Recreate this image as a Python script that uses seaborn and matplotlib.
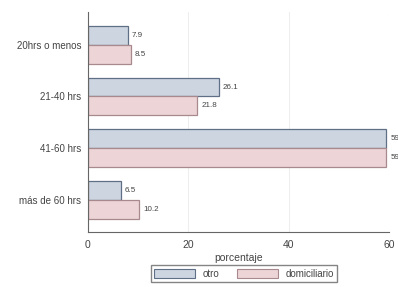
import matplotlib
matplotlib.use("Agg")
import matplotlib.pyplot as plt
import seaborn as sns
import pandas as pd
from matplotlib.patches import Patch

categories = ["20hrs o menos", "21-40 hrs", "41-60 hrs", "más de 60 hrs"]
otro = [7.9, 26.1, 59.5, 6.5]
domiciliario = [8.5, 21.8, 59.5, 10.2]
series_names = ["otro", "domiciliario"]

df = pd.DataFrame({
    "cat": categories * 2,
    "val": otro + domiciliario,
    "serie": [series_names[0]] * 4 + [series_names[1]] * 4,
})

sns.set_theme(style="white")
plt.rcParams['font.family'] = ['Liberation Sans', 'DejaVu Sans']

fills = {"otro": "#cdd5e1", "domiciliario": "#ecd4d7"}
edges = {"otro": "#5f6f85", "domiciliario": "#a8898d"}

fig = plt.figure(figsize=(3.98, 2.87), dpi=100)
ax = fig.add_axes([0.221, 0.192, 0.756, 0.766])
sns.barplot(data=df, y="cat", x="val", hue="serie", order=categories,
            hue_order=series_names, palette=fills, width=0.73, ax=ax,
            orient="h", legend=False, saturation=1)

for cont, name in zip(ax.containers, series_names):
    for p in cont:
        p.set_edgecolor(edges[name])
        p.set_linewidth(0.9)
    labels = ax.bar_label(cont, fmt="%.1f", padding=3, fontsize=5.8, color="#444444")
    for t in labels:
        t.set_clip_on(False)

ax.set_xlim(0, 60)
ax.set_ylim(3.615, -0.63)
ax.set_xticks([0, 20, 40, 60])
ax.xaxis.grid(True, color="#eeeeee", linewidth=0.8)
ax.set_axisbelow(True)
ax.tick_params(axis="x", length=3, color="#555555", labelsize=7.5, labelcolor="#444444", pad=3)
ax.tick_params(axis="y", length=0, labelsize=7, labelcolor="#444444", pad=5)
ax.set_ylabel("")
ax.set_xlabel("porcentaje", fontsize=7.5, color="#444444", labelpad=2)
for s in ["top", "right"]:
    ax.spines[s].set_visible(False)
for s in ["left", "bottom"]:
    ax.spines[s].set_color("#666666")
    ax.spines[s].set_linewidth(0.8)

handles = [Patch(facecolor=fills[n], edgecolor=edges[n], linewidth=0.8, label=n) for n in series_names]
fig.legend(handles=handles, loc="center", bbox_to_anchor=(0.613, 0.047), ncol=2,
           fontsize=7, frameon=True, fancybox=False, edgecolor="#666666",
           handlelength=4.2, handleheight=1.1, columnspacing=1.8, borderpad=0.35,
           labelcolor="#444444")

fig.savefig("out.png", dpi=100)
